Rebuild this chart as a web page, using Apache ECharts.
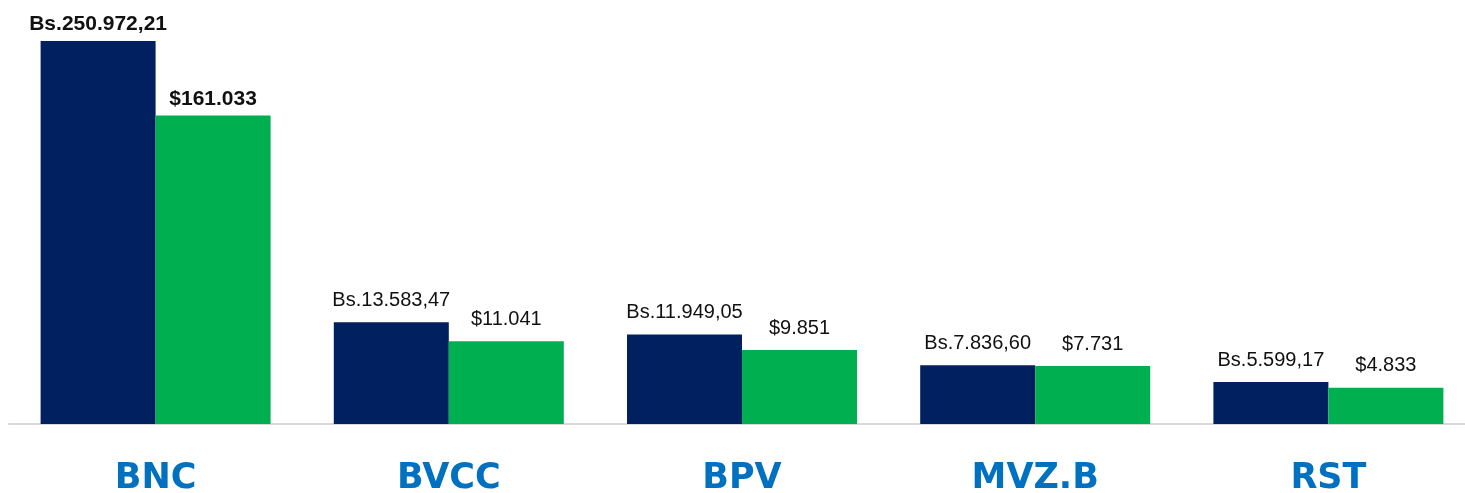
<!DOCTYPE html>
<html>
<head>
<meta charset="utf-8">
<script src="https://cdn.jsdelivr.net/npm/echarts@6.0.0/dist/echarts.min.js"></script>
<style>
html,body{margin:0;padding:0;background:#fff;}
#main{width:1465px;height:493px;}
</style>
</head>
<body>
<div id="main"></div>
<script>
// datos
var categories = ['BNC', 'BVCC', 'BPV', 'MVZ.B', 'RST'];
var bsValues = [250972.21, 13583.47, 11949.05, 7836.60, 5599.17];
var usdValues = [161033, 11041, 9851, 7731, 4833];

// formato 250.972,21
function miles(n) {
	return String(n).replace(/\B(?=(\d{3})+(?!\d))/g, '.');
}
function fmtBs(v) {
	var ent = Math.floor(v);
	var dec = Math.round((v - ent) * 100);
	return 'Bs.' + miles(ent) + ',' + (dec < 10 ? '0' + dec : dec);
}
function fmtUsd(v) {
	return '$' + miles(v);
}

// el primero (BNC) va un poco mas pegado y en negrita
function armar(values) {
	var out = [];
	for (var i = 0; i < values.length; i++) {
		if (i == 0) {
			out.push({ value: values[i], label: { distance: 6, fontWeight: 'bold', fontSize: 21 } });
		} else {
			out.push(values[i]);
		}
	}
	return out;
}

var myChart = echarts.init(document.getElementById('main'));
var option = {
	animation: false,
	backgroundColor: '#ffffff',
	grid: { left: 9, width: 1466, top: 41, bottom: 69, outerBoundsMode: 'none', containLabel: false },
	xAxis: {
		type: 'category',
		data: categories,
		axisTick: { show: false },
		axisLine: { lineStyle: { color: '#d9d9d9', width: 2 } },
		axisLabel: {
			margin: 37,
			color: '#0070C0',
			fontSize: 35,
			fontWeight: 'bold',
			fontFamily: 'DejaVu Sans'
		}
	},
	yAxis: {
		type: 'value',
		show: false,
		min: 0,
		max: 'dataMax',
		splitLine: { show: false },
		// eje cortado, como en la lamina original
		breaks: [
			{ start: 20000, end: 139905, gap: 0 },
			{ start: 165000, end: 245000, gap: 0 }
		],
		breakArea: { show: false }
	},
	series: [
		{
			name: 'Bs',
			type: 'bar',
			data: armar(bsValues),
			barWidth: 115,
			barGap: '0%',
			itemStyle: { color: '#00205F' },
			label: {
				show: true,
				position: 'top',
				distance: 12,
				color: '#111',
				fontSize: 20,
				fontFamily: 'Liberation Sans',
				formatter: function(p) { return fmtBs(bsValues[p.dataIndex]); }
			}
		},
		{
			name: 'USD',
			type: 'bar',
			data: armar(usdValues),
			barWidth: 115,
			itemStyle: { color: '#00B050' },
			label: {
				show: true,
				position: 'top',
				distance: 12,
				color: '#111',
				fontSize: 20,
				fontFamily: 'Liberation Sans',
				formatter: function(p) { return fmtUsd(usdValues[p.dataIndex]); }
			}
		}
	]
};
myChart.setOption(option);
</script>
</body>
</html>
